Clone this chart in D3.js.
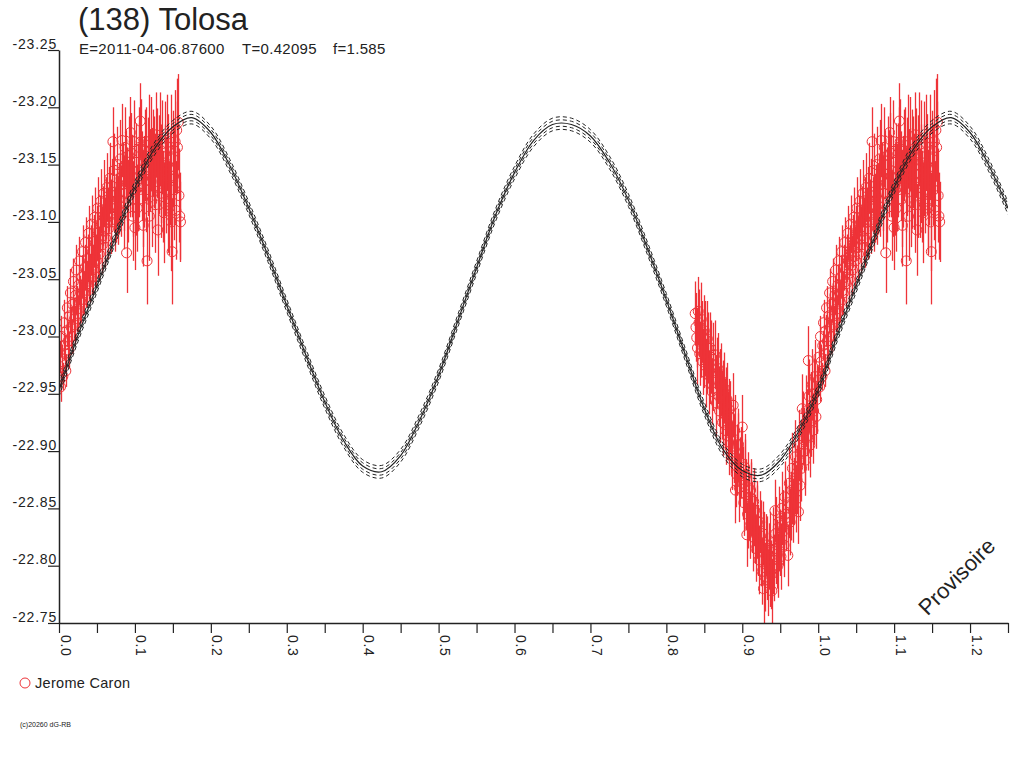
<!DOCTYPE html>
<html>
<head>
<meta charset="utf-8">
<script src="https://cdn.jsdelivr.net/npm/d3@7"></script>
<style>
  html, body { margin: 0; padding: 0; background: #fff; }
  text { font-family: "Liberation Sans", Arial, sans-serif; fill: #222; }
</style>
</head>
<body>
<div id="chart"></div>
<script>
// texts
const titleText = "(138) Tolosa";
const infoTexts = ["E=2011-04-06.87600", "T=0.42095", "f=1.585"];
const observerName = "Jerome Caron";
const creditText = "(c)20260 dG-RB";
const watermarkText = "Provisoire";

// axes
const xTickValues = [0, 0.05, 0.1, 0.15, 0.2, 0.25, 0.3, 0.35, 0.4, 0.45, 0.5, 0.55, 0.6,
  0.65, 0.7, 0.75, 0.8, 0.85, 0.9, 0.95, 1.0, 1.05, 1.1, 1.15, 1.2, 1.25];
const xLabelValues = [0, 0.1, 0.2, 0.3, 0.4, 0.5, 0.6, 0.7, 0.8, 0.9, 1.0, 1.1, 1.2];
const yTickValues = [-23.25, -23.2, -23.15, -23.1, -23.05, -23.0, -22.95, -22.9, -22.85, -22.8, -22.75];

// fitted light curve (one rotation)
const curvePhase = [0, 0.025, 0.05, 0.075, 0.1, 0.125, 0.15, 0.175, 0.2, 0.225, 0.25, 0.275,
  0.3, 0.325, 0.35, 0.375, 0.4, 0.425, 0.45, 0.475, 0.5, 0.525, 0.55, 0.575, 0.6, 0.625,
  0.65, 0.675, 0.7, 0.725, 0.75, 0.775, 0.8, 0.825, 0.85, 0.875, 0.9, 0.925, 0.95, 0.975, 1.0];
const curveMag = [-22.953, -23.001, -23.044, -23.088, -23.130, -23.163, -23.183, -23.191,
  -23.178, -23.149, -23.112, -23.071, -23.027, -22.984, -22.943, -22.909, -22.887, -22.882,
  -22.896, -22.927, -22.966, -23.013, -23.060, -23.106, -23.143, -23.171, -23.185, -23.185,
  -23.175, -23.152, -23.119, -23.077, -23.032, -22.984, -22.937, -22.901, -22.883, -22.879,
  -22.892, -22.918, -22.953];
// dashed envelope curves, offset from the fit (mag)
const envelopeOffsets = [-0.0055, -0.0028, 0.0028, 0.0055];

// observations, Jerome Caron: [phase, mag, err]
const obsSessionA = [
  [0.000, -22.962, 0.012], [0.001, -22.982, 0.014], [0.002, -22.956, 0.013], [0.004, -22.978, 0.015],
  [0.006, -22.992, 0.013], [0.008, -22.985, 0.016], [0.010, -23.005, 0.014], [0.012, -22.996, 0.017],
  [0.014, -23.018, 0.015], [0.016, -23.008, 0.018], [0.018, -23.028, 0.016], [0.020, -23.015, 0.019],
  [0.022, -23.036, 0.017], [0.024, -23.024, 0.020], [0.026, -23.045, 0.018], [0.028, -23.032, 0.021],
  [0.030, -23.052, 0.019], [0.032, -23.040, 0.022], [0.034, -23.060, 0.020], [0.036, -23.048, 0.023],
  [0.038, -23.068, 0.021], [0.040, -23.055, 0.024], [0.042, -23.075, 0.022], [0.044, -23.062, 0.025],
  [0.046, -23.083, 0.023], [0.048, -23.070, 0.026], [0.050, -23.090, 0.024], [0.052, -23.078, 0.027],
  [0.054, -23.098, 0.025], [0.056, -23.085, 0.028], [0.058, -23.105, 0.026], [0.060, -23.092, 0.029],
  [0.062, -23.112, 0.027], [0.064, -23.100, 0.030], [0.066, -23.120, 0.028], [0.068, -23.106, 0.031],
  [0.070, -23.126, 0.029], [0.071, -23.170, 0.030], [0.072, -23.115, 0.024], [0.074, -23.102, 0.028],
  [0.076, -23.124, 0.026], [0.078, -23.110, 0.030], [0.080, -23.132, 0.027], [0.082, -23.118, 0.031],
  [0.083, -23.171, 0.032], [0.084, -23.140, 0.029], [0.086, -23.125, 0.033], [0.088, -23.150, 0.030],
  [0.089, -23.073, 0.035], [0.090, -23.133, 0.032], [0.092, -23.158, 0.034], [0.094, -23.178, 0.031],
  [0.096, -23.140, 0.036], [0.098, -23.120, 0.033], [0.100, -23.095, 0.037], [0.102, -23.152, 0.034],
  [0.104, -23.130, 0.038], [0.106, -23.165, 0.035], [0.107, -23.188, 0.033], [0.109, -23.140, 0.039],
  [0.111, -23.097, 0.036], [0.113, -23.158, 0.040], [0.115, -23.128, 0.037], [0.116, -23.066, 0.038],
  [0.118, -23.170, 0.041], [0.120, -23.145, 0.036], [0.122, -23.118, 0.040], [0.124, -23.160, 0.038],
  [0.126, -23.135, 0.042], [0.128, -23.176, 0.037], [0.130, -23.093, 0.040], [0.132, -23.150, 0.043],
  [0.134, -23.125, 0.039], [0.136, -23.165, 0.041], [0.138, -23.108, 0.044], [0.140, -23.145, 0.040],
  [0.142, -23.169, 0.042], [0.144, -23.118, 0.045], [0.146, -23.138, 0.041], [0.148, -23.100, 0.043],
  [0.149, -23.074, 0.046], [0.150, -23.155, 0.042], [0.152, -23.128, 0.044], [0.154, -23.110, 0.043],
  [0.155, -23.180, 0.045], [0.156, -23.165, 0.040], [0.157, -23.187, 0.042], [0.158, -23.123, 0.041],
  [0.159, -23.105, 0.038], [0.160, -23.100, 0.035],
  [0.003, -23.000, 0.018], [0.005, -22.965, 0.012], [0.007, -23.012, 0.020], [0.009, -22.970, 0.014],
  [0.011, -23.025, 0.019], [0.013, -22.988, 0.016], [0.015, -23.038, 0.021], [0.017, -23.000, 0.015],
  [0.019, -23.048, 0.020], [0.021, -23.010, 0.017], [0.023, -23.058, 0.022], [0.025, -23.020, 0.016],
  [0.027, -23.066, 0.021], [0.029, -23.030, 0.018], [0.031, -23.074, 0.023], [0.033, -23.038, 0.019],
  [0.035, -23.082, 0.022], [0.037, -23.046, 0.020], [0.039, -23.090, 0.024], [0.041, -23.050, 0.021],
  [0.043, -23.098, 0.025], [0.045, -23.058, 0.022], [0.047, -23.104, 0.026], [0.049, -23.066, 0.023],
  [0.051, -23.112, 0.027], [0.053, -23.072, 0.024], [0.055, -23.118, 0.028], [0.057, -23.080, 0.025],
  [0.059, -23.125, 0.029], [0.061, -23.086, 0.026], [0.063, -23.130, 0.030], [0.065, -23.094, 0.027],
  [0.067, -23.138, 0.031], [0.069, -23.100, 0.028], [0.073, -23.145, 0.032], [0.075, -23.112, 0.030],
  [0.077, -23.150, 0.033], [0.079, -23.120, 0.031], [0.081, -23.155, 0.034], [0.085, -23.108, 0.032],
  [0.087, -23.165, 0.035], [0.091, -23.118, 0.036], [0.093, -23.142, 0.038], [0.095, -23.160, 0.035],
  [0.097, -23.105, 0.039], [0.099, -23.170, 0.036], [0.101, -23.128, 0.040], [0.103, -23.112, 0.038],
  [0.105, -23.145, 0.041], [0.108, -23.170, 0.037], [0.110, -23.120, 0.042], [0.112, -23.135, 0.040],
  [0.114, -23.162, 0.038], [0.117, -23.148, 0.043], [0.119, -23.105, 0.039], [0.121, -23.168, 0.041],
  [0.123, -23.138, 0.044], [0.125, -23.152, 0.040], [0.127, -23.115, 0.042], [0.129, -23.160, 0.039],
  [0.131, -23.130, 0.044], [0.133, -23.172, 0.041], [0.135, -23.142, 0.043], [0.137, -23.122, 0.040],
  [0.139, -23.160, 0.045], [0.141, -23.132, 0.042], [0.143, -23.150, 0.044], [0.145, -23.112, 0.041],
  [0.147, -23.165, 0.046], [0.151, -23.140, 0.043], [0.153, -23.170, 0.045]
];
const obsSessionB = [
  [0.838, -23.020, 0.028], [0.839, -23.008, 0.030], [0.840, -22.999, 0.026], [0.841, -22.990, 0.032],
  [0.843, -23.012, 0.029], [0.845, -22.995, 0.031], [0.847, -23.004, 0.027], [0.849, -22.985, 0.030],
  [0.851, -22.998, 0.033], [0.853, -22.978, 0.028], [0.855, -22.990, 0.031], [0.857, -22.970, 0.029],
  [0.859, -22.982, 0.032], [0.861, -22.962, 0.027], [0.864, -22.984, 0.030], [0.865, -22.955, 0.028],
  [0.867, -22.968, 0.031], [0.869, -22.948, 0.026], [0.871, -22.960, 0.029], [0.873, -22.940, 0.030],
  [0.875, -22.952, 0.027], [0.877, -22.932, 0.031], [0.879, -22.945, 0.028], [0.881, -22.922, 0.030],
  [0.883, -22.936, 0.027], [0.885, -22.912, 0.031], [0.888, -22.940, 0.028], [0.889, -22.902, 0.030],
  [0.891, -22.866, 0.029], [0.893, -22.892, 0.031], [0.895, -22.906, 0.027], [0.897, -22.882, 0.030],
  [0.900, -22.921, 0.028], [0.901, -22.872, 0.032], [0.903, -22.886, 0.029], [0.905, -22.862, 0.031],
  [0.906, -22.827, 0.028], [0.909, -22.852, 0.030], [0.911, -22.866, 0.027], [0.913, -22.842, 0.031],
  [0.915, -22.856, 0.029], [0.917, -22.832, 0.030], [0.919, -22.846, 0.028], [0.921, -22.822, 0.031],
  [0.923, -22.838, 0.027], [0.925, -22.812, 0.030], [0.927, -22.828, 0.028], [0.928, -22.780, 0.031],
  [0.931, -22.818, 0.027], [0.933, -22.800, 0.030], [0.935, -22.808, 0.029], [0.937, -22.795, 0.031],
  [0.939, -22.778, 0.028], [0.941, -22.805, 0.030], [0.943, -22.848, 0.027], [0.945, -22.815, 0.031],
  [0.947, -22.800, 0.028], [0.949, -22.825, 0.030], [0.951, -22.808, 0.029], [0.953, -22.835, 0.031],
  [0.955, -22.818, 0.028], [0.957, -22.845, 0.030], [0.960, -22.809, 0.027], [0.961, -22.855, 0.031],
  [0.963, -22.838, 0.029], [0.965, -22.866, 0.030], [0.967, -22.848, 0.028], [0.969, -22.876, 0.031],
  [0.971, -22.858, 0.029], [0.973, -22.886, 0.030], [0.974, -22.847, 0.028], [0.976, -22.870, 0.031],
  [0.977, -22.898, 0.029], [0.979, -22.937, 0.030], [0.981, -22.910, 0.028], [0.983, -22.892, 0.031],
  [0.985, -22.925, 0.029], [0.987, -22.979, 0.030], [0.989, -22.905, 0.028], [0.991, -22.938, 0.031],
  [0.993, -22.918, 0.029], [0.995, -22.950, 0.030], [0.997, -22.930, 0.028],
  [0.842, -23.022, 0.030], [0.844, -22.985, 0.028], [0.846, -23.015, 0.032], [0.848, -22.978, 0.029],
  [0.850, -23.005, 0.031], [0.852, -22.968, 0.030], [0.854, -22.998, 0.033], [0.856, -22.960, 0.028],
  [0.858, -22.990, 0.031], [0.860, -22.952, 0.029], [0.862, -22.980, 0.032], [0.866, -22.942, 0.030],
  [0.868, -22.972, 0.031], [0.870, -22.935, 0.028], [0.872, -22.962, 0.032], [0.874, -22.925, 0.029],
  [0.876, -22.955, 0.031], [0.878, -22.918, 0.030], [0.880, -22.945, 0.032], [0.882, -22.908, 0.029],
  [0.884, -22.930, 0.031], [0.886, -22.896, 0.030], [0.890, -22.918, 0.031], [0.892, -22.880, 0.029],
  [0.894, -22.905, 0.032], [0.896, -22.868, 0.030], [0.898, -22.890, 0.031], [0.902, -22.855, 0.029],
  [0.904, -22.878, 0.032], [0.907, -22.845, 0.030], [0.908, -22.868, 0.031], [0.910, -22.835, 0.029],
  [0.912, -22.858, 0.032], [0.914, -22.825, 0.030], [0.916, -22.848, 0.031], [0.918, -22.815, 0.029],
  [0.920, -22.838, 0.032], [0.922, -22.805, 0.030], [0.924, -22.826, 0.031], [0.926, -22.795, 0.029],
  [0.929, -22.815, 0.032], [0.930, -22.790, 0.030], [0.932, -22.812, 0.031], [0.934, -22.785, 0.029],
  [0.936, -22.815, 0.032], [0.938, -22.792, 0.030], [0.940, -22.820, 0.031], [0.942, -22.798, 0.029],
  [0.944, -22.828, 0.032], [0.946, -22.810, 0.030], [0.948, -22.838, 0.031], [0.950, -22.820, 0.029],
  [0.952, -22.850, 0.032], [0.954, -22.830, 0.030], [0.956, -22.860, 0.031], [0.958, -22.842, 0.029],
  [0.962, -22.872, 0.032], [0.964, -22.852, 0.030], [0.966, -22.885, 0.031], [0.968, -22.865, 0.029],
  [0.970, -22.895, 0.032], [0.972, -22.875, 0.030], [0.975, -22.905, 0.031], [0.978, -22.885, 0.029],
  [0.980, -22.920, 0.032], [0.982, -22.900, 0.030], [0.984, -22.935, 0.031], [0.986, -22.912, 0.029],
  [0.988, -22.948, 0.032], [0.990, -22.925, 0.030], [0.992, -22.958, 0.031], [0.994, -22.935, 0.029],
  [0.996, -22.965, 0.032], [0.998, -22.945, 0.030]
];

const width = 1024;
const height = 768;
const plot = { left: 59, right: 1008, top: 50, bottom: 623 };
const red = "#ee3338";
const ink = "#222";

const svg = d3.select("#chart")
  .append("svg")
  .attr("width", width)
  .attr("height", height)
  .style("background-color", "#fff");

const x = d3.scaleLinear().domain([0, 1.25]).range([plot.left, plot.right]);
const y = d3.scaleLinear().domain([-23.25, -22.75]).range([plot.top, plot.bottom]);

svg.append("clipPath").attr("id", "plotClip")
  .append("rect")
  .attr("x", plot.left)
  .attr("y", plot.top)
  .attr("width", plot.right - plot.left)
  .attr("height", plot.bottom - plot.top);

// titles
svg.append("text")
  .attr("x", 78)
  .attr("y", 30)
  .attr("font-size", "31px")
  .text(titleText);

const infoX = [79, 242, 333];
infoTexts.forEach((t, i) => {
  svg.append("text")
    .attr("x", infoX[i])
    .attr("y", 54)
    .attr("font-size", "15px")
    .attr("letter-spacing", "0.3px")
    .text(t);
});

// data: each point drawn at its phase, and again one rotation later when it fits
const allObs = [...obsSessionA, ...obsSessionB];
const drawnObs = [];
allObs.forEach((d) => {
  drawnObs.push(d);
  if (d[0] + 1 <= 1.25) drawnObs.push([d[0] + 1, d[1], d[2]]);
});

const dataG = svg.append("g").attr("clip-path", "url(#plotClip)");

dataG.selectAll(".errbar")
  .data(drawnObs)
  .join("line")
  .attr("class", "errbar")
  .attr("x1", (d) => Math.round(x(d[0])) + 0.5)
  .attr("x2", (d) => Math.round(x(d[0])) + 0.5)
  .attr("y1", (d) => y(d[1] - d[2]))
  .attr("y2", (d) => y(d[1] + d[2]))
  .attr("stroke", red)
  .attr("stroke-width", 1.3);

dataG.selectAll(".obs")
  .data(drawnObs)
  .join("circle")
  .attr("class", "obs")
  .attr("cx", (d) => x(d[0]))
  .attr("cy", (d) => y(d[1]))
  .attr("r", 5)
  .attr("fill", "none")
  .attr("stroke", red)
  .attr("stroke-width", 1);

// fitted curve over phase 0 .. 1.25
const curvePts = curvePhase.map((p, i) => [p, curveMag[i]]);
curvePhase.forEach((p, i) => {
  if (p > 0 && p + 1 <= 1.25) curvePts.push([p + 1, curveMag[i]]);
});

const line = d3.line()
  .x((d) => x(d[0]))
  .y((d) => y(d[1]))
  .curve(d3.curveCatmullRom);

const curveG = svg.append("g").attr("clip-path", "url(#plotClip)");

envelopeOffsets.forEach((off) => {
  curveG.append("path")
    .datum(curvePts.map((d) => [d[0], d[1] + off]))
    .attr("d", line)
    .attr("fill", "none")
    .attr("stroke", ink)
    .attr("stroke-width", 1)
    .attr("stroke-dasharray", "4,3");
});

curveG.append("path")
  .datum(curvePts)
  .attr("d", line)
  .attr("fill", "none")
  .attr("stroke", ink)
  .attr("stroke-width", 1.2);

// y axis
const yAxis = svg.append("g")
  .attr("transform", `translate(${plot.left},0)`)
  .call(d3.axisLeft(y).tickValues(yTickValues).tickSize(11).tickSizeOuter(0)
    .tickFormat((v) => v.toFixed(2)));

yAxis.select(".domain").attr("stroke", ink).attr("stroke-width", 1.5);
yAxis.selectAll(".tick line").attr("stroke", ink).attr("stroke-width", 1.2);
yAxis.selectAll(".tick text")
  .attr("x", -2)
  .attr("y", -2)
  .attr("dy", 0)
  .attr("text-anchor", "end")
  .attr("font-family", "Liberation Sans, Arial, sans-serif")
  .attr("font-size", "14px")
  .attr("letter-spacing", "0.8px")
  .attr("fill", ink);

// x axis
const isLabelled = (v) => xLabelValues.some((l) => Math.abs(l - v) < 1e-6);
const xAxis = svg.append("g")
  .attr("transform", `translate(0,${plot.bottom})`)
  .call(d3.axisBottom(x).tickValues(xTickValues).tickSize(10).tickSizeOuter(0)
    .tickFormat((v) => (isLabelled(v) ? v.toFixed(1) : "")));

xAxis.select(".domain").attr("stroke", ink).attr("stroke-width", 1.5);
xAxis.selectAll(".tick line").attr("stroke", ink).attr("stroke-width", 1.2);
xAxis.selectAll(".tick text")
  .attr("transform", "rotate(90)")
  .attr("x", 12)
  .attr("y", -1)
  .attr("dy", 0)
  .attr("text-anchor", "start")
  .attr("font-family", "Liberation Sans, Arial, sans-serif")
  .attr("font-size", "14px")
  .attr("letter-spacing", "0.6px")
  .attr("fill", ink);

// watermark
svg.append("text")
  .attr("transform", "translate(962,582) rotate(-45)")
  .attr("text-anchor", "middle")
  .attr("font-size", "22px")
  .text(watermarkText);

// legend
svg.append("circle")
  .attr("cx", 25)
  .attr("cy", 683)
  .attr("r", 5)
  .attr("fill", "none")
  .attr("stroke", red);

svg.append("text")
  .attr("x", 35)
  .attr("y", 688)
  .attr("font-size", "14.5px")
  .attr("letter-spacing", "0.3px")
  .text(observerName);

svg.append("text")
  .attr("x", 20)
  .attr("y", 727)
  .attr("font-size", "7px")
  .text(creditText);
</script>
</body>
</html>
